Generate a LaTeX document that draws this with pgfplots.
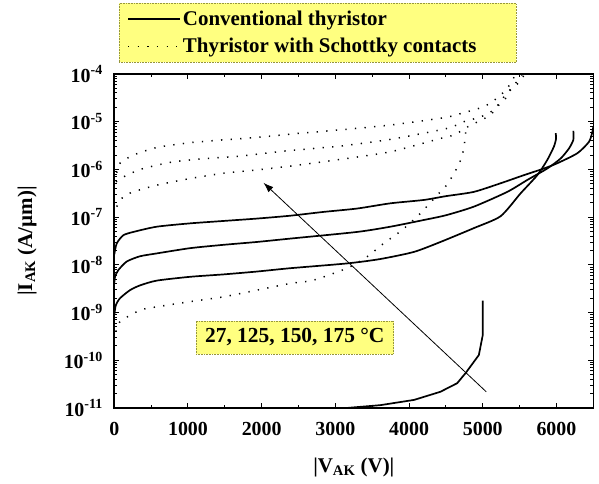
\documentclass[border=0pt]{standalone}
\usepackage{fontspec}
\setmainfont{Liberation Serif}
\usepackage{pgfplots}
\pgfplotsset{compat=1.18}
\usetikzlibrary{arrows.meta}
\definecolor{boxyellow}{RGB}{255,255,128}
\definecolor{boxedge}{RGB}{150,150,60}
\newcommand{\bigf}{\fontsize{21}{24}\selectfont\bfseries}
\newcommand{\annf}{\fontsize{21.5}{24}\selectfont\bfseries}
\newcommand{\tickf}{\fontsize{20}{23}\selectfont\bfseries}
\pgfplotsset{
  conv/.style={black, solid, line width=1.7bp},
  schottky/.style={black, line width=1.5bp, dash pattern=on 1.3bp off 8.3bp},
}
\begin{document}
\begin{tikzpicture}
\path[use as bounding box] (-114.3bp,-76bp) rectangle (484.7bp,408bp);
\begin{axis}[
  scale only axis, width=479bp, height=334bp,
  at={(0bp,0bp)}, anchor=south west,
  ymode=log, log basis y=10,
  xmin=0, xmax=6500, ymin=1e-11, ymax=1e-4,
  axis line style={line width=1.6bp},
  every tick/.style={black, line width=1bp},
  major tick length=5bp, minor tick length=3bp,
  tick align=inside,
  xtick={0,1000,2000,3000,4000,5000,6000},
  xticklabels={0,1000,2000,3000,4000,5000,6000},
  minor xtick={500,1500,2500,3500,4500,5500,6500},
  ytick={1e-11,1e-10,1e-9,1e-8,1e-7,1e-6,1e-5,1e-4},
  yticklabels={10\textsuperscript{-11},10\textsuperscript{-10},10\textsuperscript{-9},10\textsuperscript{-8},10\textsuperscript{-7},10\textsuperscript{-6},10\textsuperscript{-5},10\textsuperscript{-4}},
  minor ytick={2e-11,3e-11,4e-11,5e-11,6e-11,7e-11,8e-11,9e-11,
               2e-10,3e-10,4e-10,5e-10,6e-10,7e-10,8e-10,9e-10,
               2e-9,3e-9,4e-9,5e-9,6e-9,7e-9,8e-9,9e-9,
               2e-8,3e-8,4e-8,5e-8,6e-8,7e-8,8e-8,9e-8,
               2e-7,3e-7,4e-7,5e-7,6e-7,7e-7,8e-7,9e-7,
               2e-6,3e-6,4e-6,5e-6,6e-6,7e-6,8e-6,9e-6,
               2e-5,3e-5,4e-5,5e-5,6e-5,7e-5,8e-5,9e-5},
  xticklabel style={font=\tickf, yshift=-11bp},
  yticklabel style={font=\tickf, xshift=-8bp},
  xlabel={|V\textsubscript{AK} (V)|},
  ylabel={|I\textsubscript{AK} (A/µm)|},
  xlabel style={font=\bigf, at={(axis description cs:0.5,-0.177)}, anchor=center},
  ylabel style={font=\bigf, at={(axis description cs:-0.182,0.5)}, anchor=center},
  legend style={at={(axis description cs:0.0098,1.2126)}, anchor=north west,
    fill=boxyellow, draw=boxedge, densely dotted, line width=0.6bp,
    font=\bigf, inner xsep=8bp, inner ysep=6bp, row sep=7bp},
  legend cell align=left,
  legend image code/.code={\draw[#1] (0bp,0bp) -- (48bp,0bp); \path (0bp,0bp) -- (52bp,0bp);},
]
% Conventional 27 C
\addplot[conv] coordinates {(3000,8.91e-12) (3150,1.0e-11) (3611,1.148e-11) (4068,1.479e-11) (4425,2.188e-11) (4653,3.311e-11) (4766,5.370e-11) (4947,1.288e-10) (5000,3.388e-10) (5000,1.778e-9)};
\addlegendentry{Conventional thyristor}
% Schottky 27 C
\addplot[schottky, smooth, tension=0.4] coordinates {(23,3.981e-10) (77,6.457e-10) (349,1.122e-9) (576,1.318e-9) (1029,1.698e-9) (1481,2.138e-9) (1935,2.951e-9) (2388,4.074e-9) (2704,4.786e-9) (3158,8.511e-9) (3430,1.479e-8) (3656,2.818e-8) (3906,5.370e-8) (4154,1.202e-7) (4381,2.884e-7) (4494,4.365e-7) (4585,7.079e-7) (4653,1.096e-6) (4708,1.698e-6) (4743,2.754e-6) (4757,4.266e-6) (4770,6.310e-6)};
\addlegendentry{Thyristor with Schottky contacts\kern30bp}
% Conventional 125 C
\addplot[conv, smooth, tension=0.4, forget plot] coordinates {(0,8.913e-10) (20,1.413e-9) (77,1.995e-9) (213,2.951e-9) (349,3.715e-9) (576,4.677e-9) (1029,5.623e-9) (1481,6.310e-9) (1935,7.244e-9) (2388,8.511e-9) (3158,1.072e-8) (3600,1.318e-8) (4063,1.862e-8) (4426,3.020e-8) (4879,5.888e-8) (5242,1.047e-7) (5514,3.162e-7) (5740,7.586e-7) (5876,1.585e-6) (5966,3.020e-6) (5995,4.467e-6) (5989,5.754e-6)};
% Conventional 150 C
\addplot[conv, smooth, tension=0.4, forget plot] coordinates {(0,4.169e-9) (10,5.623e-9) (54,7.762e-9) (169,1.175e-8) (349,1.514e-8) (576,1.738e-8) (1029,2.239e-8) (1481,2.630e-8) (1935,3.020e-8) (2384,3.548e-8) (3294,4.898e-8) (3747,6.310e-8) (4199,8.710e-8) (4500,1.096e-7) (4879,1.660e-7) (5333,3.388e-7) (5605,6.026e-7) (5876,1.047e-6) (6057,1.698e-6) (6170,2.754e-6) (6229,4.169e-6) (6229,6.457e-6)};
% Conventional 175 C
\addplot[conv, smooth, tension=0.4, forget plot] coordinates {(0,1.660e-8) (33,2.818e-8) (122,4.169e-8) (258,4.898e-8) (576,6.310e-8) (1029,7.413e-8) (1481,8.318e-8) (1935,9.333e-8) (2388,1.072e-7) (2840,1.288e-7) (3294,1.514e-7) (3747,1.950e-7) (4199,2.291e-7) (4500,2.754e-7) (4879,3.388e-7) (5242,5.129e-7) (5558,7.586e-7) (5830,1.047e-6) (6012,1.349e-6) (6284,2.188e-6) (6442,3.802e-6) (6488,6.166e-6) (6500,7.943e-6)};
% Schottky 125 C
\addplot[schottky, smooth, tension=0.4, forget plot] coordinates {(33,1.660e-7) (122,2.692e-7) (258,3.388e-7) (576,4.677e-7) (1029,6.457e-7) (1481,8.318e-7) (1935,9.772e-7) (2388,1.175e-6) (3067,1.622e-6) (3747,2.344e-6) (4426,4.467e-6) (4607,5.248e-6) (4837,8.511e-6) (4993,1.096e-5) (5129,1.514e-5) (5219,2.239e-5) (5310,3.090e-5) (5355,4.266e-5) (5523,7.413e-5) (5560,1e-4)};
% Schottky 150 C
\addplot[schottky, smooth, tension=0.4, forget plot] coordinates {(23,5.495e-7) (169,7.586e-7) (394,1.047e-6) (802,1.445e-6) (1256,1.698e-6) (1708,1.905e-6) (2343,2.455e-6) (3067,3.090e-6) (3747,4.266e-6) (4517,7.244e-6) (4743,1e-5) (4969,1.259e-5) (5151,1.778e-5) (5287,3.311e-5) (5387,5.012e-5) (5490,7.762e-5) (5537,1e-4)};
% Schottky 175 C
\addplot[schottky, smooth, tension=0.4, forget plot] coordinates {(33,8.511e-7) (77,1.349e-6) (258,1.995e-6) (576,2.884e-6) (1029,3.631e-6) (1481,4.169e-6) (1935,4.677e-6) (2388,5.495e-6) (3067,6.761e-6) (3747,8.511e-6) (4494,1.230e-5) (4743,1.549e-5) (4969,1.950e-5) (5105,2.455e-5) (5242,3.631e-5) (5333,5.012e-5) (5401,7.413e-5) (5450,1e-4)};
% arrow
\addplot[black, line width=0.8bp, -{Latex[length=10bp,width=7bp]}, forget plot] coordinates {(5047,2.19e-11) (2025,5.25e-7)};
\node[fill=boxyellow, draw=boxedge, densely dotted, line width=0.6bp, minimum width=197.6bp, minimum height=33bp, inner sep=1bp, font=\annf] at (axis cs:2449,3.02e-10) {27, 125, 150, 175 °C};
\end{axis}
\end{tikzpicture}
\end{document}
